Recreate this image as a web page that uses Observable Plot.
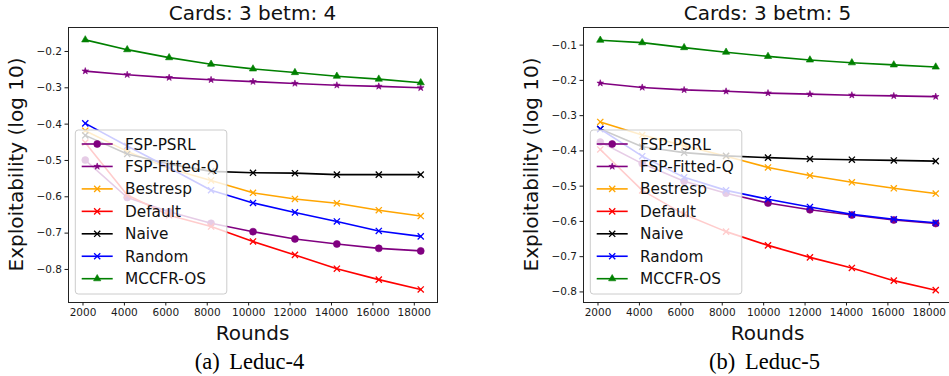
<!DOCTYPE html>
<html>
<head>
<meta charset="utf-8">
<script src="https://cdn.jsdelivr.net/npm/d3@7"></script>
<script src="https://cdn.jsdelivr.net/npm/@observablehq/plot@0.6"></script>
<style>
  html, body { margin: 0; padding: 0; background: #fff; overflow: hidden; }
  #wrap { position: relative; width: 949px; height: 376px; overflow: hidden; }
  #wrap svg { position: absolute; top: 0; }
</style>
</head>
<body>
<div id="wrap"></div>
<script>
// ---------- data ----------
const rounds = [2110, 4135, 6160, 8185, 10210, 12235, 14260, 16285, 18310];
const xTicks = [2000, 4000, 6000, 8000, 10000, 12000, 14000, 16000, 18000];
const seriesNames = ["FSP-PSRL", "FSP-Fitted-Q", "Bestresp", "Default", "Naive", "Random", "MCCFR-OS"];
const seriesColors = ["purple", "purple", "orange", "red", "black", "blue", "green"];
const seriesSymbols = ["circle", "star", "times", "times", "times", "times", "triangle"];

// Leduc-4 (Cards: 3 betm: 4)
const l4Titles = ["Cards: 3 betm: 4", "(a) Leduc-4"];
const l4YTicks = [-0.8, -0.7, -0.6, -0.5, -0.4, -0.3, -0.2];
const l4PSRL    = [-0.499, -0.602, -0.641, -0.673, -0.696, -0.716, -0.730, -0.742, -0.749];
const l4FittedQ = [-0.254, -0.264, -0.272, -0.278, -0.283, -0.288, -0.293, -0.296, -0.300];
const l4Bestresp= [-0.418, -0.475, -0.522, -0.555, -0.589, -0.606, -0.618, -0.637, -0.653];
const l4Default = [-0.451, -0.595, -0.651, -0.682, -0.723, -0.760, -0.798, -0.828, -0.855];
const l4Naive   = [-0.431, -0.482, -0.510, -0.530, -0.534, -0.535, -0.539, -0.539, -0.539];
const l4Random  = [-0.398, -0.460, -0.520, -0.582, -0.617, -0.643, -0.668, -0.694, -0.709];
const l4MCCFR   = [-0.168, -0.195, -0.217, -0.235, -0.248, -0.258, -0.268, -0.276, -0.286];

// Leduc-5 (Cards: 3 betm: 5)
const l5Titles = ["Cards: 3 betm: 5", "(b) Leduc-5"];
const l5YTicks = [-0.8, -0.7, -0.6, -0.5, -0.4, -0.3, -0.2, -0.1];
const l5PSRL    = [-0.375, -0.436, -0.486, -0.520, -0.548, -0.567, -0.582, -0.596, -0.606];
const l5FittedQ = [-0.208, -0.220, -0.227, -0.231, -0.236, -0.239, -0.242, -0.244, -0.246];
const l5Bestresp= [-0.318, -0.355, -0.385, -0.415, -0.447, -0.470, -0.489, -0.506, -0.521];
const l5Default = [-0.396, -0.512, -0.580, -0.629, -0.668, -0.702, -0.732, -0.768, -0.795];
const l5Naive   = [-0.338, -0.388, -0.405, -0.414, -0.419, -0.423, -0.425, -0.427, -0.429];
const l5Random  = [-0.338, -0.415, -0.475, -0.512, -0.537, -0.559, -0.580, -0.594, -0.604];
const l5MCCFR   = [-0.086, -0.093, -0.107, -0.120, -0.132, -0.142, -0.150, -0.156, -0.162];

const yLabel = "Exploitability (log 10)";
const xLabel = "Rounds";

// ---------- drawing ----------
const symbolR = {circle: 3.5, star: 2.1, times: 2.9, triangle: 2.7};
const d3Sym = {circle: d3.symbolCircle, star: d3.symbolStar, times: d3.symbolTimes, triangle: d3.symbolTriangle};
const strokeSym = new Set(["times"]);

function panel(values, yTicks, titles, yDomain, left) {
  const marks = [];
  values.forEach((vals, i) => {
    const data = rounds.map((r, j) => ({x: r, y: vals[j]}));
    const c = seriesColors[i], s = seriesSymbols[i];
    marks.push(Plot.line(data, {x: "x", y: "y", stroke: c, strokeWidth: 1.6}));
    marks.push(Plot.dot(data, strokeSym.has(s)
      ? {x: "x", y: "y", symbol: () => s, r: symbolR[s], stroke: c, strokeWidth: 1.3, fill: "none"}
      : {x: "x", y: "y", symbol: () => s, r: symbolR[s], fill: c, stroke: c, strokeWidth: 0.6}));
  });
  marks.push(Plot.frame({stroke: "#222", strokeWidth: 1}));
  marks.push(Plot.axisX(xTicks, {tickSize: 3.5, tickPadding: 3, label: null, tickFormat: d => String(d), fontSize: 10.5}));
  marks.push(Plot.axisY(yTicks, {tickSize: 3.5, tickPadding: 3, label: null, tickFormat: d => d.toFixed(1).replace("-", "\u2212"), fontSize: 10.5}));

  const svg = Plot.plot({
    width: 470, height: 376,
    marginLeft: 68, marginRight: 33, marginTop: 27, marginBottom: 74,
    x: {domain: [1300, 19120], axis: null},
    y: {domain: yDomain, axis: null},
    style: {fontFamily: "'DejaVu Sans'", fontSize: "10.5px", color: "#1a1a1a", background: "transparent", overflow: "visible"},
    marks
  });
  svg.style.left = left + "px";
  const g = d3.select(svg);
  const cx = 68 + (470 - 68 - 33) / 2;
  const cy = 27 + (376 - 27 - 74) / 2;
  g.append("text").attr("x", cx).attr("y", 20).attr("text-anchor", "middle")
    .style("font-family", "'DejaVu Sans'").style("font-size", "20px").attr("fill", "#111").text(titles[0]);
  g.append("text").attr("transform", `translate(23,${cy}) rotate(-90)`).attr("text-anchor", "middle")
    .style("font-family", "'DejaVu Sans'").style("font-size", "20px").attr("fill", "#111").text(yLabel);
  g.append("text").attr("x", cx).attr("y", 340).attr("text-anchor", "middle")
    .style("font-family", "'DejaVu Sans'").style("font-size", "20px").attr("fill", "#111").text(xLabel);
  g.append("text").attr("x", cx - 3).attr("y", 369).attr("text-anchor", "middle")
    .style("font-family", "'Liberation Serif', 'Times New Roman', serif").style("font-size", "22.5px")
    .style("word-spacing", "4px").attr("fill", "#000").text(titles[1]);

  // legend (matplotlib style, semi-transparent box)
  const lg = g.append("g").attr("text-anchor", "start");
  lg.append("rect").attr("x", 75.3).attr("y", 130).attr("width", 151.5).attr("height", 164)
    .attr("rx", 3).attr("fill", "#fff").attr("fill-opacity", 0.8).attr("stroke", "#cccccc").attr("stroke-width", 1);
  seriesNames.forEach((name, i) => {
    const y = 144 + i * 22.45;
    const c = seriesColors[i], s = seriesSymbols[i];
    lg.append("line").attr("x1", 81.7).attr("x2", 112.7).attr("y1", y).attr("y2", y)
      .attr("stroke", c).attr("stroke-width", 1.6);
    const p = lg.append("path").attr("transform", `translate(97.2,${y})`)
      .attr("d", d3.symbol(d3Sym[s], Math.PI * symbolR[s] * symbolR[s])());
    if (strokeSym.has(s)) p.attr("fill", "none").attr("stroke", c).attr("stroke-width", 1.3);
    else p.attr("fill", c).attr("stroke", c).attr("stroke-width", 0.6);
    lg.append("text").attr("x", 125).attr("y", y).attr("dy", "0.36em").attr("text-anchor", "start")
      .style("font-family", "'DejaVu Sans'").style("font-size", "15.3px").attr("fill", "#111").text(name);
  });
  document.getElementById("wrap").appendChild(svg);
}

panel([l4PSRL, l4FittedQ, l4Bestresp, l4Default, l4Naive, l4Random, l4MCCFR], l4YTicks, l4Titles, [-0.891, -0.134], 0);
panel([l5PSRL, l5FittedQ, l5Bestresp, l5Default, l5Naive, l5Random, l5MCCFR], l5YTicks, l5Titles, [-0.830, -0.050], 514.7);
</script>
</body>
</html>
